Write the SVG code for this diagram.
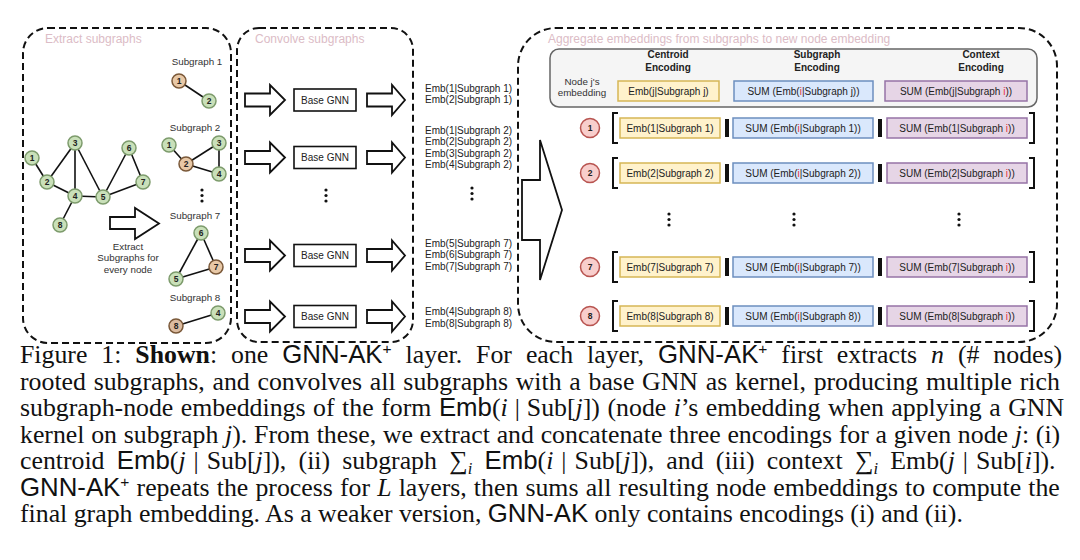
<svg xmlns="http://www.w3.org/2000/svg" width="1080" height="560" viewBox="0 0 1080 560">
<style>
.panel{fill:none;stroke:#111;stroke-width:2;stroke-dasharray:7 4}
.ptitle{font-family:"Liberation Sans",Arial,sans-serif;font-size:12px;fill:#dcbcc6}
.gn{fill:#c9e0b9;stroke:#7d9b6c;stroke-width:1.5}
.tn{fill:#e8c8a6;stroke:#7a5838;stroke-width:1.5}
.nl{font-family:"Liberation Sans",Arial,sans-serif;font-size:8.5px;font-weight:bold;fill:#222;text-anchor:middle}
.edge{stroke:#111;stroke-width:1.6}
.lbl{font-family:"Liberation Sans",Arial,sans-serif;font-size:9.8px;fill:#333}
.mid{text-anchor:middle}
.barrow{fill:#fff;stroke:#111;stroke-width:1.8}
.gnn{fill:#fff;stroke:#111;stroke-width:1.6}
.t10{font-family:"Liberation Sans",Arial,sans-serif;font-size:10px;fill:#222}
.hd{font-family:"Liberation Sans",Arial,sans-serif;font-size:10px;font-weight:bold;fill:#222;text-anchor:middle}
.yb{fill:#fff2cc;stroke:#d6b656;stroke-width:1.5}
.bb{fill:#dae8fc;stroke:#6c8ebf;stroke-width:1.5}
.pb{fill:#e6d5e6;stroke:#9673a6;stroke-width:1.5}
.rc{fill:#f8cecc;stroke:#b85450;stroke-width:1.5}
.red{fill:#e8303a}
.bracket{fill:none;stroke:#111;stroke-width:2}
.bar{fill:#111}
.dot{fill:#111}
.cap{font-family:"Liberation Serif","Times New Roman",serif;font-size:25.8px;fill:#111}
.sf{font-family:"Liberation Sans",Arial,sans-serif}
.it{font-style:italic}
.sup{font-family:"Liberation Sans",Arial,sans-serif;font-size:15.5px}
.sub{font-style:italic;font-size:16.5px}
.sig{font-size:26px}
</style>

<!-- panels -->
<g id="panel-extract">
<rect class="panel" x="23" y="28" width="208" height="315" rx="25"/>
<text class="ptitle" x="45" y="42.5">Extract subgraphs</text>
</g>
<g id="panel-convolve">
<rect class="panel" x="237" y="28" width="176" height="314" rx="22"/>
<text class="ptitle" x="255" y="42.5">Convolve subgraphs</text>
</g>
<g id="panel-aggregate">
<rect class="panel" x="518" y="28" width="539" height="314" rx="38"/>
<text class="ptitle" x="548" y="42.5">Aggregate embeddings from subgraphs to new node embedding</text>
</g>

<!-- connectors -->
<g id="connectors">
<line class="edge" x1="32" y1="158" x2="47" y2="182"/>
<line class="edge" x1="47" y1="182" x2="75" y2="143"/>
<line class="edge" x1="47" y1="182" x2="75" y2="196"/>
<line class="edge" x1="75" y1="143" x2="75" y2="196"/>
<line class="edge" x1="75" y1="143" x2="103" y2="197"/>
<line class="edge" x1="75" y1="196" x2="103" y2="197"/>
<line class="edge" x1="75" y1="196" x2="60" y2="225"/>
<line class="edge" x1="103" y1="197" x2="129" y2="148"/>
<line class="edge" x1="103" y1="197" x2="143" y2="182"/>
<line class="edge" x1="129" y1="148" x2="143" y2="182"/>
<line class="edge" x1="179" y1="81" x2="209" y2="101"/>
<line class="edge" x1="169" y1="145" x2="186" y2="164"/>
<line class="edge" x1="186" y1="164" x2="219" y2="143"/>
<line class="edge" x1="186" y1="164" x2="219" y2="174"/>
<line class="edge" x1="219" y1="143" x2="219" y2="174"/>
<line class="edge" x1="201" y1="233" x2="216" y2="267"/>
<line class="edge" x1="201" y1="233" x2="176" y2="279"/>
<line class="edge" x1="176" y1="279" x2="216" y2="267"/>
<line class="edge" x1="176" y1="326" x2="218" y2="313"/>
<path class="barrow" d="M110,217 H135 V208 L159,223.5 L135,239 V229 H110 Z"/>
<path class="barrow" d="M245,93.5 H270 V85 L285,100 L270,115 V106.5 H245 Z"/>
<path class="barrow" d="M367,93.5 H392 V85 L405,100 L392,115 V106.5 H367 Z"/>
<path class="barrow" d="M245,151 H270 V142.5 L285,157.5 L270,172.5 V164 H245 Z"/>
<path class="barrow" d="M367,151 H392 V142.5 L405,157.5 L392,172.5 V164 H367 Z"/>
<path class="barrow" d="M245,249 H270 V240.5 L285,255.5 L270,270.5 V262 H245 Z"/>
<path class="barrow" d="M367,249 H392 V240.5 L405,255.5 L392,270.5 V262 H367 Z"/>
<path class="barrow" d="M245,310 H270 V301.5 L285,316.5 L270,331.5 V323 H245 Z"/>
<path class="barrow" d="M367,310 H392 V301.5 L405,316.5 L392,331.5 V323 H367 Z"/>
<path class="barrow" d="M522,180 H540 V140 L562,210 L540,280 V240 H522 Z"/>
</g>

<!-- main graph nodes -->
<g id="g-n1"><circle class="gn" cx="32" cy="158" r="7"/><text class="nl" x="32" y="161">1</text></g>
<g id="g-n2"><circle class="gn" cx="47" cy="182" r="7"/><text class="nl" x="47" y="185">2</text></g>
<g id="g-n3"><circle class="gn" cx="75" cy="143" r="7"/><text class="nl" x="75" y="146">3</text></g>
<g id="g-n4"><circle class="gn" cx="75" cy="196" r="7"/><text class="nl" x="75" y="199">4</text></g>
<g id="g-n5"><circle class="gn" cx="103" cy="197" r="7"/><text class="nl" x="103" y="200">5</text></g>
<g id="g-n6"><circle class="gn" cx="129" cy="148" r="7"/><text class="nl" x="129" y="151">6</text></g>
<g id="g-n7"><circle class="gn" cx="143" cy="182" r="7"/><text class="nl" x="143" y="185">7</text></g>
<g id="g-n8"><circle class="gn" cx="60" cy="225" r="7"/><text class="nl" x="60" y="228">8</text></g>
<g id="extract-label">
<text class="lbl mid" x="128" y="249.5">Extract</text>
<text class="lbl mid" x="128" y="261">Subgraphs for</text>
<text class="lbl mid" x="128" y="272.5">every node</text>
</g>

<!-- subgraphs -->
<g id="subgraph1">
<text class="lbl mid" x="197" y="64.5">Subgraph 1</text>
<circle class="tn" cx="179" cy="81" r="7"/><text class="nl" x="179" y="84">1</text>
<circle class="gn" cx="209" cy="101" r="7"/><text class="nl" x="209" y="104">2</text>
</g>
<g id="subgraph2">
<text class="lbl mid" x="195" y="130.5">Subgraph 2</text>
<circle class="gn" cx="169" cy="145" r="7"/><text class="nl" x="169" y="148">1</text>
<circle class="tn" cx="186" cy="164" r="7"/><text class="nl" x="186" y="167">2</text>
<circle class="gn" cx="219" cy="143" r="7"/><text class="nl" x="219" y="146">3</text>
<circle class="gn" cx="219" cy="174" r="7"/><text class="nl" x="219" y="177">4</text>
</g>
<g id="dots-left"><circle class="dot" cx="202" cy="190" r="1.6"/><circle class="dot" cx="202" cy="195.5" r="1.6"/><circle class="dot" cx="202" cy="201" r="1.6"/></g>
<g id="subgraph7">
<text class="lbl mid" x="195" y="218.5">Subgraph 7</text>
<circle class="gn" cx="201" cy="233" r="7"/><text class="nl" x="201" y="236">6</text>
<circle class="tn" cx="216" cy="267" r="7"/><text class="nl" x="216" y="270">7</text>
<circle class="gn" cx="176" cy="279" r="7"/><text class="nl" x="176" y="282">5</text>
</g>
<g id="subgraph8">
<text class="lbl mid" x="195" y="300.5">Subgraph 8</text>
<circle class="gn" cx="218" cy="313" r="7"/><text class="nl" x="218" y="316">4</text>
<circle class="tn" cx="176" cy="326" r="7" style="fill:#dcbca0"/><text class="nl" x="176" y="329">8</text>
</g>

<!-- base GNNs -->
<g id="gnn1"><rect class="gnn" x="294" y="89" width="62" height="22"/><text class="t10 mid" x="325" y="103.5">Base GNN</text></g>
<g id="gnn2"><rect class="gnn" x="294" y="146.5" width="62" height="22"/><text class="t10 mid" x="325" y="161">Base GNN</text></g>
<g id="dots-mid"><circle class="dot" cx="326" cy="190" r="1.6"/><circle class="dot" cx="326" cy="195.5" r="1.6"/><circle class="dot" cx="326" cy="201" r="1.6"/></g>
<g id="gnn7"><rect class="gnn" x="294" y="244.5" width="62" height="22"/><text class="t10 mid" x="325" y="259">Base GNN</text></g>
<g id="gnn8"><rect class="gnn" x="294" y="305.5" width="62" height="22"/><text class="t10 mid" x="325" y="320">Base GNN</text></g>

<!-- embeddings -->
<g id="emb1" class="t10">
<text x="425" y="91.5">Emb(1|Subgraph 1)</text>
<text x="425" y="103">Emb(2|Subgraph 1)</text>
</g>
<g id="emb2" class="t10">
<text x="425" y="133.5">Emb(1|Subgraph 2)</text>
<text x="425" y="145">Emb(2|Subgraph 2)</text>
<text x="425" y="156.5">Emb(3|Subgraph 2)</text>
<text x="425" y="168">Emb(4|Subgraph 2)</text>
</g>
<g id="dots-emb"><circle class="dot" cx="472" cy="188" r="1.6"/><circle class="dot" cx="472" cy="193.5" r="1.6"/><circle class="dot" cx="472" cy="199" r="1.6"/></g>
<g id="emb7" class="t10">
<text x="425" y="246.5">Emb(5|Subgraph 7)</text>
<text x="425" y="258">Emb(6|Subgraph 7)</text>
<text x="425" y="270">Emb(7|Subgraph 7)</text>
</g>
<g id="emb8" class="t10">
<text x="425" y="315">Emb(4|Subgraph 8)</text>
<text x="425" y="327">Emb(8|Subgraph 8)</text>
</g>

<!-- header -->
<g id="header">
<rect x="550" y="49" width="487" height="58" rx="9" fill="#f5f5f5" stroke="#666" stroke-width="1.5"/>
<text class="hd" x="668" y="57.5">Centroid</text><text class="hd" x="668" y="70.5">Encoding</text>
<text class="hd" x="817" y="57.5">Subgraph</text><text class="hd" x="817" y="70.5">Encoding</text>
<text class="hd" x="981" y="57.5">Context</text><text class="hd" x="981" y="70.5">Encoding</text>
<text class="lbl mid" x="582" y="84.5">Node j's</text>
<text class="lbl mid" x="582" y="96">embedding</text>
<rect class="yb" x="618" y="81" width="101" height="20"/>
<text class="t10 mid" x="668.5" y="94.5">Emb(j|Subgraph j)</text>
<rect class="bb" x="734" y="81" width="139" height="20"/>
<text class="t10 mid" x="803.5" y="94.5">SUM (Emb(<tspan class="red">i</tspan>|Subgraph j))</text>
<rect class="pb" x="885" y="81" width="142" height="20"/>
<text class="t10 mid" x="956" y="94.5">SUM (Emb(j|Subgraph <tspan class="red">i</tspan>))</text>
</g>

<!-- rows -->
<g id="row1">
<circle class="rc" cx="590" cy="128" r="9.5"/><text class="nl" x="590" y="131">1</text>
<path class="bracket" d="M618,113 H613 V143 H618"/>
<rect class="yb" x="620" y="118" width="100" height="20"/><text class="t10 mid" x="670" y="131.5">Emb(1|Subgraph 1)</text>
<rect class="bar" x="725" y="119" width="4" height="18"/>
<rect class="bb" x="733" y="118" width="140" height="20"/><text class="t10 mid" x="803" y="131.5">SUM (Emb(<tspan class="red">i</tspan>|Subgraph 1))</text>
<rect class="bar" x="878" y="119" width="4" height="18"/>
<rect class="pb" x="887" y="118" width="140" height="20"/><text class="t10 mid" x="957" y="131.5">SUM (Emb(1|Subgraph <tspan class="red">i</tspan>))</text>
<path class="bracket" d="M1029,113 H1034 V143 H1029"/>
</g>
<g id="row2">
<circle class="rc" cx="590" cy="173" r="9.5"/><text class="nl" x="590" y="176">2</text>
<path class="bracket" d="M618,158 H613 V188 H618"/>
<rect class="yb" x="620" y="163" width="100" height="20"/><text class="t10 mid" x="670" y="176.5">Emb(2|Subgraph 2)</text>
<rect class="bar" x="725" y="164" width="4" height="18"/>
<rect class="bb" x="733" y="163" width="140" height="20"/><text class="t10 mid" x="803" y="176.5">SUM (Emb(<tspan class="red">i</tspan>|Subgraph 2))</text>
<rect class="bar" x="878" y="164" width="4" height="18"/>
<rect class="pb" x="887" y="163" width="140" height="20"/><text class="t10 mid" x="957" y="176.5">SUM (Emb(2|Subgraph <tspan class="red">i</tspan>))</text>
<path class="bracket" d="M1029,158 H1034 V188 H1029"/>
</g>
<g id="dots-right">
<circle class="dot" cx="669" cy="214" r="1.6"/><circle class="dot" cx="669" cy="219.5" r="1.6"/><circle class="dot" cx="669" cy="225" r="1.6"/>
<circle class="dot" cx="794" cy="214" r="1.6"/><circle class="dot" cx="794" cy="219.5" r="1.6"/><circle class="dot" cx="794" cy="225" r="1.6"/>
<circle class="dot" cx="959" cy="214" r="1.6"/><circle class="dot" cx="959" cy="219.5" r="1.6"/><circle class="dot" cx="959" cy="225" r="1.6"/>
</g>
<g id="row7">
<circle class="rc" cx="590" cy="267" r="9.5"/><text class="nl" x="590" y="270">7</text>
<path class="bracket" d="M618,252 H613 V282 H618"/>
<rect class="yb" x="620" y="257" width="100" height="20"/><text class="t10 mid" x="670" y="270.5">Emb(7|Subgraph 7)</text>
<rect class="bar" x="725" y="258" width="4" height="18"/>
<rect class="bb" x="733" y="257" width="140" height="20"/><text class="t10 mid" x="803" y="270.5">SUM (Emb(<tspan class="red">i</tspan>|Subgraph 7))</text>
<rect class="bar" x="878" y="258" width="4" height="18"/>
<rect class="pb" x="887" y="257" width="140" height="20"/><text class="t10 mid" x="957" y="270.5">SUM (Emb(7|Subgraph <tspan class="red">i</tspan>))</text>
<path class="bracket" d="M1029,252 H1034 V282 H1029"/>
</g>
<g id="row8">
<circle class="rc" cx="590" cy="316" r="9.5"/><text class="nl" x="590" y="319">8</text>
<path class="bracket" d="M618,301 H613 V331 H618"/>
<rect class="yb" x="620" y="306" width="100" height="20"/><text class="t10 mid" x="670" y="319.5">Emb(8|Subgraph 8)</text>
<rect class="bar" x="725" y="307" width="4" height="18"/>
<rect class="bb" x="733" y="306" width="140" height="20"/><text class="t10 mid" x="803" y="319.5">SUM (Emb(<tspan class="red">i</tspan>|Subgraph 8))</text>
<rect class="bar" x="878" y="307" width="4" height="18"/>
<rect class="pb" x="887" y="306" width="140" height="20"/><text class="t10 mid" x="957" y="319.5">SUM (Emb(8|Subgraph <tspan class="red">i</tspan>))</text>
<path class="bracket" d="M1029,301 H1034 V331 H1029"/>
</g>

<!-- caption -->
<g id="caption" class="cap">
<text x="20" y="363" style="word-spacing:7.5px">Figure 1: <tspan font-weight="bold">Shown</tspan>: one <tspan class="sf">GNN-AK</tspan><tspan class="sup" dy="-9">+</tspan><tspan dy="9"> layer. For each layer, </tspan><tspan class="sf">GNN-AK</tspan><tspan class="sup" dy="-9">+</tspan><tspan dy="9"> first extracts </tspan><tspan class="it">n</tspan> (# nodes)</text>
<text x="20" y="389.5" style="word-spacing:1.3px">rooted subgraphs, and convolves all subgraphs with a base GNN as kernel, producing multiple rich</text>
<text x="20" y="416" style="word-spacing:1.1px">subgraph-node embeddings of the form <tspan class="sf">Emb</tspan>(<tspan class="it">i</tspan><tspan dx="7">|</tspan><tspan dx="7">Sub[</tspan><tspan class="it">j</tspan>]) (node <tspan class="it">i</tspan>’s embedding when applying a GNN</text>
<text x="20" y="442.5" style="word-spacing:0.3px">kernel on subgraph <tspan class="it">j</tspan>). From these, we extract and concatenate three encodings for a given node <tspan class="it">j</tspan>: (i)</text>
<text x="20" y="469" style="word-spacing:5.8px">centroid <tspan class="sf">Emb</tspan>(<tspan class="it">j</tspan><tspan dx="8">|</tspan><tspan dx="8">Sub[</tspan><tspan class="it">j</tspan>]), (ii) subgraph <tspan class="sig">∑</tspan><tspan class="sub" dy="5">i</tspan><tspan dy="-5"> </tspan><tspan class="sf">Emb</tspan>(<tspan class="it">i</tspan><tspan dx="8">|</tspan><tspan dx="8">Sub[</tspan><tspan class="it">j</tspan>]), and (iii) context <tspan class="sig">∑</tspan><tspan class="sub" dy="5">i</tspan><tspan dy="-5"> Emb(</tspan><tspan class="it">j</tspan><tspan dx="8">|</tspan><tspan dx="8">Sub[</tspan><tspan class="it">i</tspan>]).</text>
<text x="20" y="495.5" style="word-spacing:0.7px"><tspan class="sf">GNN-AK</tspan><tspan class="sup" dy="-9">+</tspan><tspan dy="9"> repeats the process for </tspan><tspan class="it">L</tspan> layers, then sums all resulting node embeddings to compute the</text>
<text x="20" y="522">final graph embedding. As a weaker version, <tspan class="sf">GNN-AK</tspan> only contains encodings (i) and (ii).</text>
</g>
</svg>
